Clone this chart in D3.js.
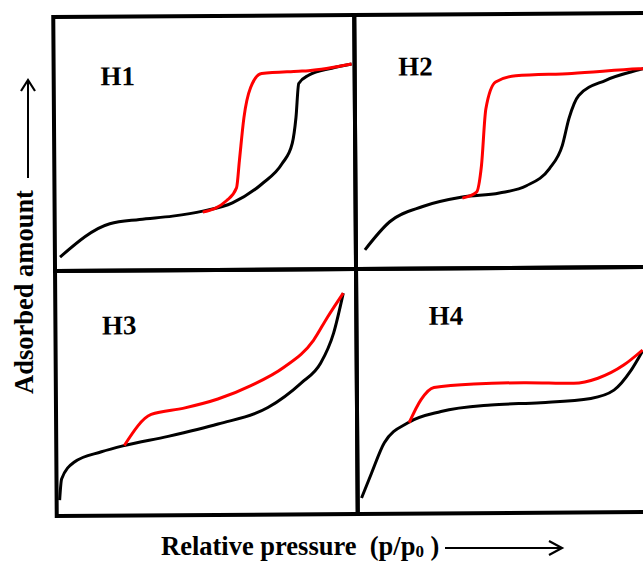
<!DOCTYPE html>
<html lang="en">
<head>
<meta charset="utf-8">
<title>Hysteresis loops H1-H4</title>
<script src="https://cdnjs.cloudflare.com/ajax/libs/d3/7.8.5/d3.min.js"></script>
<style>
	body { margin: 0; background: #fff; }
	.frame { fill: none; stroke: #000; stroke-width: 4px; }
	.ads { fill: none; stroke: #000; stroke-width: 3px; }
	.des { fill: none; stroke: #f00; stroke-width: 3px; }
	.tag { font: bold 27px "Liberation Serif", "DejaVu Serif", serif; }
	.axlabel { font: bold 26.5px "Liberation Serif", "DejaVu Serif", serif; }
</style>
</head>
<body>
<div id="chart"></div>
<script>
// panel names
var panels = ["H1", "H2", "H3", "H4"];

// adsorption branches (black), [p/p0, amount] in panel units 0..1
var h1Ads = [[0.017,0.055],[0.183,0.185],[0.282,0.201],[0.392,0.213],[0.492,0.232],[0.591,0.264],[0.691,0.339],[0.757,0.417],[0.791,0.496],[0.804,0.598],[0.814,0.732],[0.847,0.764],[0.924,0.791],[0.990,0.807]];
var h2Ads = [[0.030,0.075],[0.113,0.185],[0.223,0.244],[0.355,0.280],[0.478,0.295],[0.568,0.323],[0.645,0.390],[0.688,0.480],[0.711,0.587],[0.744,0.677],[0.834,0.736],[0.944,0.776],[0.990,0.790]];
var h3Ads = [[0.010,0.065],[0.017,0.151],[0.060,0.220],[0.150,0.261],[0.226,0.286],[0.372,0.322],[0.538,0.371],[0.704,0.437],[0.814,0.535],[0.880,0.616],[0.924,0.739],[0.957,0.902]];
var h4Ads = [[0.013,0.065],[0.047,0.167],[0.090,0.290],[0.169,0.371],[0.279,0.416],[0.445,0.441],[0.611,0.449],[0.777,0.465],[0.854,0.498],[0.910,0.576],[0.950,0.657]];

// desorption branches (red)
var h1Des = [[0.492,0.228],[0.571,0.272],[0.605,0.323],[0.615,0.429],[0.631,0.598],[0.654,0.717],[0.691,0.772],[0.814,0.780],[0.847,0.782],[0.990,0.807]];
var h2Des = [[0.355,0.276],[0.402,0.299],[0.419,0.402],[0.435,0.626],[0.468,0.732],[0.535,0.756],[0.721,0.764],[0.944,0.780],[0.990,0.782]];
var h3Des = [[0.226,0.286],[0.316,0.412],[0.425,0.437],[0.538,0.473],[0.648,0.527],[0.757,0.600],[0.857,0.710],[0.904,0.804],[0.957,0.902]];
var h4Des = [[0.173,0.371],[0.213,0.465],[0.256,0.514],[0.389,0.527],[0.555,0.531],[0.721,0.527],[0.801,0.547],[0.887,0.600],[0.950,0.661]];

var adsData = [h1Ads, h2Ads, h3Ads, h4Ads];
var desData = [h1Des, h2Des, h3Des, h4Des];

var width = 643, height = 563;
var gridLeft = 55, gridTop = 15, panelW = 301, panelH = [254, 245];

var svg = d3.select("#chart").append("svg")
	.attr("width", width)
	.attr("height", height);

// the whole grid sits a little tilted in the picture
var grid = svg.append("g")
	.attr("transform", "rotate(-0.4, 350, 265)");

var line = d3.line().curve(d3.curveMonotoneX);

// label spots inside each panel (panel units)
var tagPos = [[0.155, 0.73], [0.145, 0.76], [0.155, 0.74], [0.24, 0.77]];

panels.forEach(function(name, i) {
	var col = i % 2, row = Math.floor(i / 2);
	var x0 = gridLeft + col * panelW;
	var y0 = row == 0 ? gridTop : gridTop + panelH[0];
	var x = d3.scaleLinear().domain([0, 1]).range([x0, x0 + panelW]);
	var y = d3.scaleLinear().domain([0, 1]).range([y0 + panelH[row], y0]);

	line.x(function(d) { return x(d[0]); })
		.y(function(d) { return y(d[1]); });

	var g = grid.append("g");
	g.append("path").attr("class", "ads").attr("d", line(adsData[i]));
	g.append("path").attr("class", "des").attr("d", line(desData[i]));

	g.append("rect")
		.attr("class", "frame")
		.attr("x", x0).attr("y", y0)
		.attr("width", panelW).attr("height", panelH[row]);

	g.append("text")
		.attr("class", "tag")
		.attr("x", x(tagPos[i][0]))
		.attr("y", y(tagPos[i][1]))
		.text(name);
});

// y axis label with arrow
svg.append("text")
	.attr("class", "axlabel")
	.attr("transform", "translate(33, 394) rotate(-90)")
	.attr("text-anchor", "start")
	.text("Adsorbed amount");

svg.append("line")
	.attr("x1", 28).attr("y1", 178).attr("x2", 28).attr("y2", 81)
	.attr("stroke", "#000").attr("stroke-width", 2);
svg.append("path")
	.attr("d", "M21,91 L28,80 L35,91")
	.attr("fill", "none").attr("stroke", "#000").attr("stroke-width", 2.2);

// x axis label with arrow
var xl = svg.append("text")
	.attr("class", "axlabel")
	.attr("x", 161).attr("y", 555)
	.attr("xml:space", "preserve");
xl.append("tspan").text("Relative pressure  (p/p");
xl.append("tspan").attr("font-size", "17px").attr("dy", 2).text("0");
xl.append("tspan").attr("dy", -2).text(" )");

svg.append("line")
	.attr("x1", 445).attr("y1", 548).attr("x2", 561).attr("y2", 548)
	.attr("stroke", "#000").attr("stroke-width", 2);
svg.append("path")
	.attr("d", "M549,541 L562,548 L549,555")
	.attr("fill", "none").attr("stroke", "#000").attr("stroke-width", 2.2);
</script>
</body>
</html>
